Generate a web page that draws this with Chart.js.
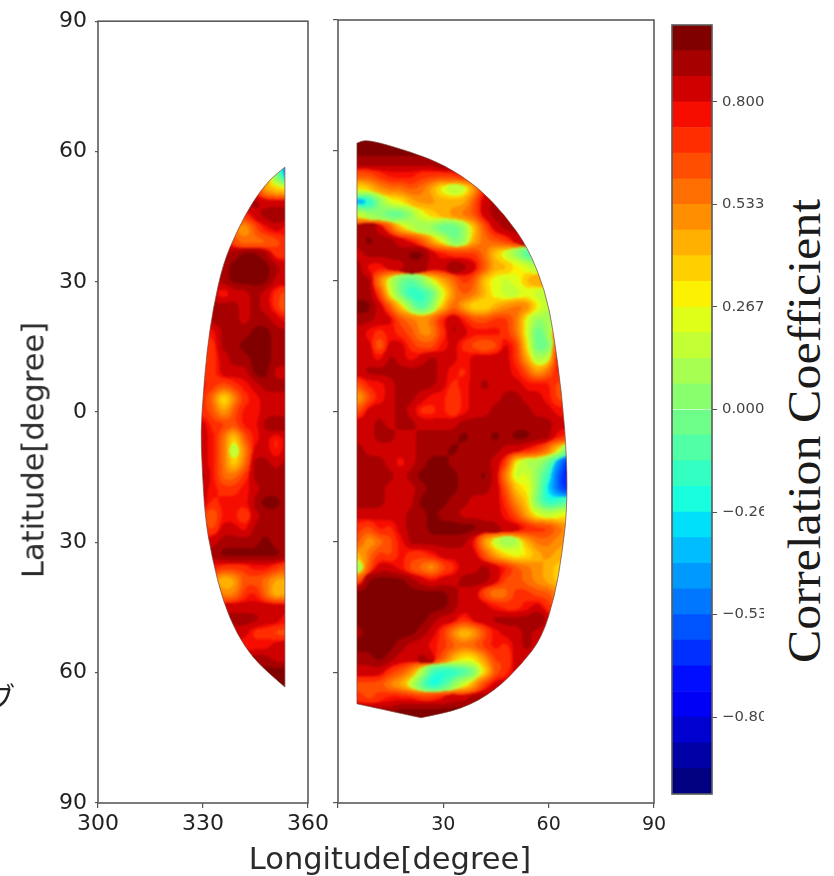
<!DOCTYPE html>
<html><head><meta charset="utf-8">
<style>
html,body{margin:0;padding:0;background:#fff;width:834px;height:876px;overflow:hidden}
canvas{position:absolute;top:0;filter:blur(.35px)}
.t{position:absolute;white-space:nowrap;color:#2b2b2b;transform:translate(-50%,-50%)}
</style>
<script src="https://cdn.jsdelivr.net/npm/chart.js@4/dist/chart.umd.min.js"></script>
</head><body>
<canvas id="cL" width="340" height="876" style="left:0"></canvas>
<canvas id="cR" width="360" height="876" style="left:320px"></canvas>
<canvas id="cB" width="104" height="876" style="left:660px"></canvas>
<div class="t" style="left:33px;top:450px;font:30.5px 'DejaVu Sans';transform:translate(-50%,-50%) rotate(-90deg)">Latitude[degree]</div>
<div class="t" style="left:390px;top:858px;font:30.5px 'DejaVu Sans'">Longitude[degree]</div>
<div class="t" style="left:804px;top:431px;font:46px 'Liberation Serif';color:#1a1a1a;transform:translate(-50%,-50%) rotate(-90deg) scaleX(1.087)">Correlation Coefficient</div>
<div style="position:absolute;left:-13px;top:676px;height:40px;line-height:40px;font-size:28px;font-family:'Noto Sans CJK JP';color:#222">ブ</div>
<script>
// ---- axes
const latTicks=[90,60,30,0,-30,-60,-90];
const latTickLabels=['90','60','30','0','30','60','90'];
const leftLonTicks=[300,330,360];
const rightLonTicks=[0,30,60,90];
const rightLonLabels=['','30','60','90'];
const cbarTicks=[0.8,0.533,0.267,0,-0.267,-0.533,-0.8];
const cbarLabels=['0.800','0.533','0.267','0.000','\u22120.267','\u22120.533','\u22120.800'];
// ---- swath outlines (lon, lat); a repeated vertex is a sharp corner
const leftEdgeLon=[353.4,353.4,349.1,344.3,339.7,335.7,332.9,331.1,330,329.4,329.7,330.6,332.6,335.7,339.7,344.3,349.1,353.4,353.4,353.4,353.4];
const leftEdgeLat=[56.4,56.4,53.6,48.6,41.7,34.1,23.9,14,3.2,-4.4,-12,-24.4,-33.6,-43.5,-51.1,-56.6,-60.3,-63.3,-63.3,56.4,56.4];
const rightEdgeLon=[5.4,5.4,8.3,21.1,30.5,39.9,47.6,54.1,59,61.3,63.8,65.2,65.2,63.8,61.8,58.1,52.4,44.7,35.3,23.6,23.6,5.4,5.4,5.4,5.4];
const rightEdgeLat=[61.7,61.7,62.6,59.6,56.6,51.6,45.1,37.7,27.8,18.6,3.7,-10.8,-23.2,-32.7,-42.3,-52,-58,-64.2,-68.4,-70.4,-70.4,-67.2,-67.2,61.7,61.7];
// ---- left swath correlation, lon 330..354 step 3, one array per latitude
const leftLons=[330,333,336,339,342,345,348,351,354];
const leftLats=[57,54,51,48,45,42,39,36,33,30,27,24,21,18,15,12,9,6,3,0,-3,-6,-9,-12,-15,-18,-21,-24,-27,-30,-33,-36,-39,-42,-45,-48,-51,-54,-57,-60,-63,-66];
const L57=[.8,.8,.8,.8,.8,.8,.3,-.1,-.45];
const L54=[.8,.8,.8,.8,.8,.7,.4,0,-.45];
const L51=[.85,.85,.85,.85,.85,.75,.45,.35,.3];
const L48=[.9,.9,.9,.9,.87,.87,.85,.85,.8];
const L45=[.8,.8,.8,.7,.7,.85,.9,.95,.9];
const L42=[.6,.6,.6,.55,.45,.6,.75,.8,.75];
const L39=[.85,.85,.85,.6,.55,.55,.58,.65,.7];
const L36=[.85,.85,.87,.93,.95,.95,.87,.72,.7];
const L33=[.85,.85,.93,.96,.96,.96,.95,.87,.8];
const L30=[.85,.85,.87,.96,.96,.96,.95,.85,.8];
const L27=[.85,.85,.72,.85,.85,.87,.85,.72,.65];
const L24=[.85,.88,.87,.87,.85,.87,.85,.72,.58];
const L21=[.85,.9,.87,.87,.83,.87,.87,.8,.75];
const L18=[.7,.75,.87,.87,.87,.95,.95,.87,.87];
const L15=[.7,.72,.87,.9,.95,.96,.96,.87,.87];
const L12=[.65,.68,.85,.87,.87,.96,.96,.87,.87];
const L9=[.7,.72,.8,.82,.85,.96,.96,.85,.85];
const L6=[.75,.7,.6,.68,.78,.85,.87,.92,.87];
const L3=[.7,.55,.2,.5,.72,.74,.82,.85,.85];
const L0=[.7,.62,.4,.6,.74,.74,.8,.85,.85];
const Ln3=[.8,.68,.68,.65,.74,.78,.87,.95,.9];
const Ln6=[.8,.74,.58,.3,.6,.75,.8,.72,.85];
const Ln9=[.8,.74,.55,.05,.5,.8,.8,.72,.85];
const Ln12=[.8,.75,.55,.3,.55,.87,.87,.85,.87];
const Ln15=[.9,.74,.55,.58,.68,.87,.92,.87,.87];
const Ln18=[.85,.78,.68,.72,.75,.85,.9,.87,.87];
const Ln21=[.85,.72,.75,.78,.78,.87,.95,.95,.92];
const Ln24=[.7,.55,.75,.78,.6,.8,.87,.87,.87];
const Ln27=[.7,.6,.8,.85,.75,.87,.93,.92,.9];
const Ln30=[.85,.8,.87,.87,.87,.9,.95,.93,.9];
const Ln33=[.87,.87,.95,.97,.97,.97,.97,.97,.9];
const Ln36=[.8,.75,.7,.72,.72,.75,.75,.7,.65];
const Ln39=[.6,.5,.35,.42,.6,.65,.55,.4,.45];
const Ln42=[.7,.6,.5,.5,.7,.75,.55,.38,.4];
const Ln45=[.87,.87,.85,.85,.85,.85,.8,.8,.8];
const Ln48=[.87,.87,.87,.88,.88,.87,.85,.82,.75];
const Ln51=[.85,.85,.85,.85,.8,.72,.68,.65,.6];
const Ln54=[.85,.85,.85,.85,.72,.75,.78,.8,.8];
const Ln57=[.87,.87,.87,.87,.87,.9,.87,.85,.85];
const Ln60=[.9,.9,.9,.9,.9,.93,.95,.95,.95];
const Ln63=[.95,.95,.95,.95,.95,.95,.95,.95,.95];
const Ln66=[.95,.95,.95,.95,.95,.95,.95,.95,.95];
const leftRows=[L57,L54,L51,L48,L45,L42,L39,L36,L33,L30,L27,L24,L21,L18,L15,L12,L9,L6,L3,L0,Ln3,Ln6,Ln9,Ln12,Ln15,Ln18,Ln21,Ln24,Ln27,Ln30,Ln33,Ln36,Ln39,Ln42,Ln45,Ln48,Ln51,Ln54,Ln57,Ln60,Ln63,Ln66];
// ---- right swath correlation, lon 6..66 step 3, one array per latitude
const rightLons=[6,9,12,15,18,21,24,27,30,33,36,39,42,45,48,51,54,57,60,63,66];
const rightLats=[63,60,57,54,51,48,45,42,39,36,33,30,27,24,21,18,15,12,9,6,3,0,-3,-6,-9,-12,-15,-18,-21,-24,-27,-30,-33,-36,-39,-42,-45,-48,-51,-54,-57,-60,-63,-66,-69,-72];
const R63=[.95,.95,.95,.95,.95,.95,.95,.95,.95,.95,.95,.95,.95,.95,.95,.95,.95,.95,.95,.95,.95];
const R60=[.95,.95,.95,.95,.95,.95,.95,.95,.95,.95,.95,.95,.95,.95,.95,.95,.95,.95,.95,.95,.95];
const R57=[.9,.9,.9,.9,.88,.88,.9,.92,.95,.95,.9,.9,.9,.9,.9,.9,.9,.9,.9,.9,.9];
const R54=[.6,.65,.72,.78,.78,.75,.72,.7,.68,.68,.75,.82,.85,.85,.85,.85,.85,.85,.85,.85,.85];
const R51=[.3,.35,.5,.55,.55,.6,.55,.42,.2,.12,.15,.45,.75,.9,.9,.9,.9,.9,.9,.9,.9];
const R48=[-.45,-.3,.05,.2,.3,.45,.5,.5,.45,.4,.4,.6,.8,.92,.9,.9,.9,.9,.9,.9,.9];
const R45=[.2,.1,0,-.12,-.1,0,.2,.35,.4,.5,.55,.6,.8,.93,.9,.85,.85,.85,.85,.85,.85];
const R42=[.93,.9,.8,.6,.35,.15,.05,0,-.08,-.12,0,.35,.65,.85,.92,.92,.9,.9,.9,.9,.9];
const R39=[.92,.95,.92,.9,.85,.75,.6,.45,.2,-.05,.05,.4,.55,.6,.7,.85,.85,.85,.85,.85,.85];
const R36=[.85,.9,.88,.92,.93,.95,.95,.85,.75,.7,.7,.7,.55,.35,.15,0,-.15,-.2,-.2,-.2,-.2];
const R33=[.88,.75,.75,.8,.85,.88,.87,.85,.85,.95,.93,.8,.6,.4,.4,.3,.25,.1,.3,.3,.3];
const R30=[.93,.87,.5,.15,-.05,-.1,0,.2,.4,.55,.7,.6,.35,.2,.15,.2,.4,.5,.5,.4,.4];
const R27=[.93,.9,.7,.25,-.05,-.24,-.2,-.1,.2,.5,.6,.55,.45,.2,.15,.15,.25,.15,.1,.3,.3];
const R24=[.95,.95,.85,.65,.35,0,-.2,0,.35,.6,.4,.3,.3,.4,.5,.55,.55,.3,.1,.2,.2];
const R21=[.93,.93,.85,.8,.65,.55,.5,.55,.75,.9,.75,.6,.6,.7,.7,.55,.2,0,.1,.1,.1];
const R18=[.8,.78,.7,.75,.7,.62,.5,.5,.7,.9,.82,.78,.75,.78,.7,.55,.2,-.08,.1,.6,.6];
const R15=[.85,.8,.55,.85,.8,.7,.65,.65,.75,.85,.7,.6,.55,.6,.85,.7,.3,-.1,-.05,.7,.7];
const R12=[.8,.8,.75,.87,.85,.75,.85,.87,.85,.85,.75,.8,.8,.8,.8,.7,.4,.1,.15,.8,.8];
const R9=[.83,.9,.9,.93,.9,.87,.9,.9,.85,.78,.7,.85,.82,.82,.8,.75,.6,.45,.55,.75,.75];
const R6=[.6,.75,.78,.8,.9,.93,.9,.87,.83,.7,.75,.85,.87,.85,.85,.8,.78,.75,.75,.65,.65];
const R3=[.4,.65,.75,.8,.88,.87,.8,.75,.75,.6,.75,.8,.8,.85,.9,.87,.85,.85,.78,.65,.65];
const R0=[.65,.8,.82,.8,.87,.85,.72,.7,.75,.6,.75,.8,.85,.87,.9,.87,.87,.85,.8,.75,.75];
const Rn3=[.8,.82,.87,.82,.87,.87,.83,.82,.85,.82,.87,.9,.87,.87,.88,.92,.92,.9,.87,.8,.8];
const Rn6=[.85,.85,.87,.87,.85,.85,.87,.88,.9,.92,.95,.93,.88,.95,.88,.95,.97,.9,.88,.75,.7];
const Rn9=[.87,.82,.85,.83,.8,.85,.87,.9,.93,.95,.93,.88,.87,.87,.85,.8,.75,.7,.55,.3,-.2];
const Rn12=[.93,.87,.87,.85,.75,.85,.92,.95,.95,.93,.9,.9,.88,.85,.7,.2,.12,.1,-.05,-.45,-.8];
const Rn15=[.87,.87,.87,.87,.8,.87,.95,.97,.97,.95,.93,.93,.95,.85,.5,.15,.2,.05,-.2,-.6,-.85];
const Rn18=[.87,.87,.87,.85,.82,.82,.93,.97,.97,.95,.92,.87,.87,.85,.6,.35,.3,0,-.3,-.55,-.7];
const Rn21=[.87,.87,.88,.85,.8,.85,.95,.97,.97,.92,.87,.85,.85,.83,.7,.5,.35,-.05,-.22,-.2,-.1];
const Rn24=[.85,.85,.85,.85,.8,.87,.93,.95,.88,.87,.85,.8,.8,.8,.75,.6,.4,.2,.15,.2,.3];
const Rn27=[.7,.65,.75,.72,.8,.87,.9,.95,.97,.97,.97,.95,.88,.88,.85,.8,.75,.7,.7,.55,.5];
const Rn30=[.6,.45,.55,.6,.75,.87,.88,.92,.93,.93,.87,.75,.45,.15,.05,.1,.45,.55,.55,.5,.45];
const Rn33=[.4,.55,.7,.65,.75,.72,.68,.75,.8,.83,.85,.83,.6,.4,.3,.25,.3,.45,.5,.45,.45];
const Rn36=[.05,.6,.8,.8,.75,.65,.55,.45,.65,.72,.85,.85,.87,.8,.78,.65,.55,.5,.45,.35,.35];
const Rn39=[.65,.95,.97,.97,.95,.88,.8,.78,.82,.85,.87,.92,.88,.8,.65,.6,.55,.5,.45,.35,.35];
const Rn42=[.97,.97,.97,.97,.97,.97,.97,.95,.95,.87,.85,.8,.65,.5,.55,.7,.72,.65,.6,.5,.5];
const Rn45=[.97,.97,.97,.97,.97,.97,.97,.97,.95,.9,.85,.85,.82,.75,.7,.7,.75,.8,.7,.6,.6];
const Rn48=[.95,.97,.97,.97,.97,.97,.95,.9,.85,.8,.7,.8,.85,.88,.92,.88,.93,.95,.85,.7,.7];
const Rn51=[.93,.97,.97,.97,.97,.95,.9,.82,.7,.5,.38,.45,.65,.75,.8,.85,.87,.85,.85,.85,.85];
const Rn54=[.95,.97,.97,.97,.93,.85,.8,.75,.7,.6,.55,.6,.7,.75,.7,.82,.9,.85,.85,.85,.85];
const Rn57=[.9,.92,.95,.9,.85,.85,.87,.8,.6,.45,.3,.3,.5,.7,.65,.8,.85,.85,.85,.85,.85];
const Rn60=[.85,.85,.82,.7,.6,.5,.15,-.2,-.25,-.22,-.17,-.05,.3,.6,.7,.8,.8,.8,.8,.8,.8];
const Rn63=[.65,.65,.6,.5,.45,.15,-.1,-.28,-.2,.05,.25,.45,.7,.8,.85,.85,.85,.85,.85,.85,.85];
const Rn66=[.7,.6,.7,.75,.75,.75,.72,.72,.75,.8,.85,.87,.9,.9,.9,.9,.9,.9,.9,.9,.9];
const Rn69=[.87,.87,.9,.93,.95,.97,.97,.97,.97,.97,.97,.97,.97,.97,.97,.97,.97,.97,.97,.97,.97];
const Rn72=[.97,.97,.97,.97,.97,.97,.97,.97,.97,.97,.97,.97,.97,.97,.97,.97,.97,.97,.97,.97,.97];
const rightRows=[R63,R60,R57,R54,R51,R48,R45,R42,R39,R36,R33,R30,R27,R24,R21,R18,R15,R12,R9,R6,R3,R0,Rn3,Rn6,Rn9,Rn12,Rn15,Rn18,Rn21,Rn24,Rn27,Rn30,Rn33,Rn36,Rn39,Rn42,Rn45,Rn48,Rn51,Rn54,Rn57,Rn60,Rn63,Rn66,Rn69,Rn72];

// ---- 30-level jet palette (matplotlib control points)
const LEVELS=30;
const jetR=[[0,0],[.35,0],[.66,1],[.89,1],[1,.5]];
const jetG=[[0,0],[.125,0],[.375,1],[.64,1],[.91,0],[1,0]];
const jetB=[[0,.5],[.11,1],[.34,1],[.65,0],[1,0]];
function seg(ctrl,t){
  for(let i=1;i<ctrl.length;i++){
    if(t<=ctrl[i][0]){
      const [a,va]=ctrl[i-1],[b,vb]=ctrl[i];
      return va+(vb-va)*(t-a)/(b-a);
    }
  }
  return ctrl[ctrl.length-1][1];
}
const palette=[...Array(LEVELS).keys()].map(i=>{
  const t=i/(LEVELS-1);
  return [jetR,jetG,jetB].map(c=>Math.round(255*seg(c,t)));
});
const css=c=>`rgb(${c[0]},${c[1]},${c[2]})`;
const levelOf=v=>Math.max(0,Math.min(LEVELS-1,Math.floor((v+1)/2*LEVELS)));
const sprites=palette.map(c=>{
  const s=document.createElement('canvas');s.width=12;s.height=15;
  const x=s.getContext('2d');x.fillStyle=css(c);x.fillRect(0,0,12,15);return s;
});
function cells(lons,lats,rows){
  const out=[];
  rows.forEach((row,j)=>row.forEach((v,i)=>{
    out.push({x:lons[i],y:lats[j],v});
    if(i===0) out.push({x:lons[0]-3,y:lats[j],v});
  }));
  return out;
}
function outline(lon,lat){return lon.map((x,i)=>({x,y:lat[i]}));}

// turns the sharp cells into filled contour bands, cut to the swath outline
const contourPlugin={id:'contour',afterDatasetDraw(chart,args){
  if(args.index!==1) return;
  const {ctx,chartArea:a,scales}=chart;
  const W=Math.round(a.width)-2,H=Math.round(a.height)-2,X=Math.round(a.left)+1,Y=Math.round(a.top)+1;
  const off=document.createElement('canvas');off.width=W;off.height=H;
  const o=off.getContext('2d',{willReadFrequently:true});
  o.filter='blur(5px)';
  o.drawImage(chart.canvas,X,Y,W,H,0,0,W,H);
  o.filter='none';
  const im=o.getImageData(0,0,W,H),d=im.data;
  for(let p=0;p<d.length;p+=4){
    if(!d[p+3]) continue;
    let best=0,bd=1e9;
    for(let k=0;k<LEVELS;k++){
      const c=palette[k],q=(d[p]-c[0])**2+(d[p+1]-c[1])**2+(d[p+2]-c[2])**2;
      if(q<bd){bd=q;best=k;}
    }
    d[p]=palette[best][0];d[p+1]=palette[best][1];d[p+2]=palette[best][2];d[p+3]=255;
  }
  o.putImageData(im,0,0);
  ctx.save();
  ctx.clearRect(X,Y,W,H);
  const pts=chart.data.datasets[0].data.map(pt=>[scales.x.getPixelForValue(pt.x),scales.y.getPixelForValue(pt.y)]);
  const path=new Path2D();
  path.moveTo(pts[0][0],pts[0][1]);
  for(let i=0;i<pts.length-1;i++){
    path.quadraticCurveTo(pts[i][0],pts[i][1],(pts[i][0]+pts[i+1][0])/2,(pts[i][1]+pts[i+1][1])/2);
  }
  path.closePath();
  ctx.save();
  ctx.clip(path);
  ctx.filter='blur(.8px)';
  ctx.drawImage(off,X,Y);
  ctx.restore();
  ctx.strokeStyle='rgba(120,70,60,.7)';ctx.lineWidth=1;ctx.stroke(path);
  ctx.restore();
}};
const framePlugin={id:'frame',afterDraw(chart){
  const {ctx,chartArea:a}=chart;
  ctx.save();ctx.strokeStyle='#5a5a5a';ctx.lineWidth=1.6;
  ctx.strokeRect(a.left,a.top,a.width,a.height);ctx.restore();
}};
const tickFont=s=>({family:'DejaVu Sans',size:s});
function swath(id,opt){
  return new Chart(document.getElementById(id),{
    type:'scatter',
    data:{datasets:[
      {data:outline(opt.edgeLon,opt.edgeLat),showLine:false,pointRadius:0},
      {data:cells(opt.lons,opt.lats,opt.rows),pointStyle:c=>sprites[levelOf(c.raw.v)],pointRadius:8,showLine:false}
    ]},
    options:{
      responsive:false,animation:false,
      plugins:{legend:{display:false},tooltip:{enabled:false}},
      layout:{padding:opt.padding},
      scales:{
        x:{type:'linear',min:opt.xmin,max:opt.xmax,
          afterFit:s=>{s.height=73;},
          afterBuildTicks:s=>{s.ticks=opt.xticks.map(value=>({value}));},
          grid:{drawOnChartArea:false,drawTicks:true,tickLength:5,color:'#555',lineWidth:1.2},border:{display:false},
          ticks:{font:tickFont(opt.xfont),color:'#222',padding:opt.xpad,maxRotation:0,autoSkip:false,callback:opt.xcb}},
        y:{type:'linear',min:-90,max:90,
          afterFit:s=>{s.width=opt.yw;},
          afterBuildTicks:s=>{s.ticks=latTicks.map(value=>({value}));},
          grid:{drawOnChartArea:false,drawTicks:true,tickLength:opt.ytick,color:'#555',lineWidth:1.2},border:{display:false},
          ticks:{display:opt.ylabels,font:tickFont(22),color:'#222',padding:8,autoSkip:false,
            callback:v=>latTickLabels[latTicks.indexOf(v)]}}
      }
    },
    plugins:[contourPlugin,framePlugin]
  });
}
swath('cL',{lons:leftLons,lats:leftLats,rows:leftRows,edgeLon:leftEdgeLon,edgeLat:leftEdgeLat,
  padding:{top:20,right:32,left:0,bottom:0},xmin:300,xmax:360,xticks:leftLonTicks,xfont:22,xpad:3,xcb:v=>String(v),yw:98,ytick:3,ylabels:true});
swath('cR',{lons:rightLons,lats:rightLats,rows:rightRows,edgeLon:rightEdgeLon,edgeLat:rightEdgeLat,
  padding:{top:20,right:26,left:0,bottom:0},xmin:0,xmax:90,xticks:rightLonTicks,xfont:19,xpad:6,xcb:v=>rightLonLabels[rightLonTicks.indexOf(v)],yw:18,ytick:5,ylabels:false});

// ---- colour bar
const cbarEdges=[...Array(LEVELS+1).keys()].map(i=>-1+2*i/LEVELS);
new Chart(document.getElementById('cB'),{
  type:'bar',
  data:{labels:['c'],datasets:palette.map((c,i)=>({data:[[cbarEdges[i],cbarEdges[i+1]]],backgroundColor:css(c),grouped:false,categoryPercentage:1,barPercentage:1,borderWidth:0}))},
  options:{
    responsive:false,animation:false,
    plugins:{legend:{display:false},tooltip:{enabled:false}},
    layout:{padding:{left:12,top:25,bottom:82,right:0}},
    scales:{
      x:{display:false},
      y:{type:'linear',position:'right',min:-1,max:1,
        afterFit:s=>{s.width=52;},
        afterBuildTicks:s=>{s.ticks=cbarTicks.map(value=>({value}));},
        grid:{drawOnChartArea:false,tickLength:5,color:'#555'},border:{display:false},
        ticks:{font:tickFont(14.8),color:'#444',padding:5,autoSkip:false,callback:v=>cbarLabels[cbarTicks.indexOf(v)]}}
    }
  },
  plugins:[framePlugin]
});
</script>
</body></html>
